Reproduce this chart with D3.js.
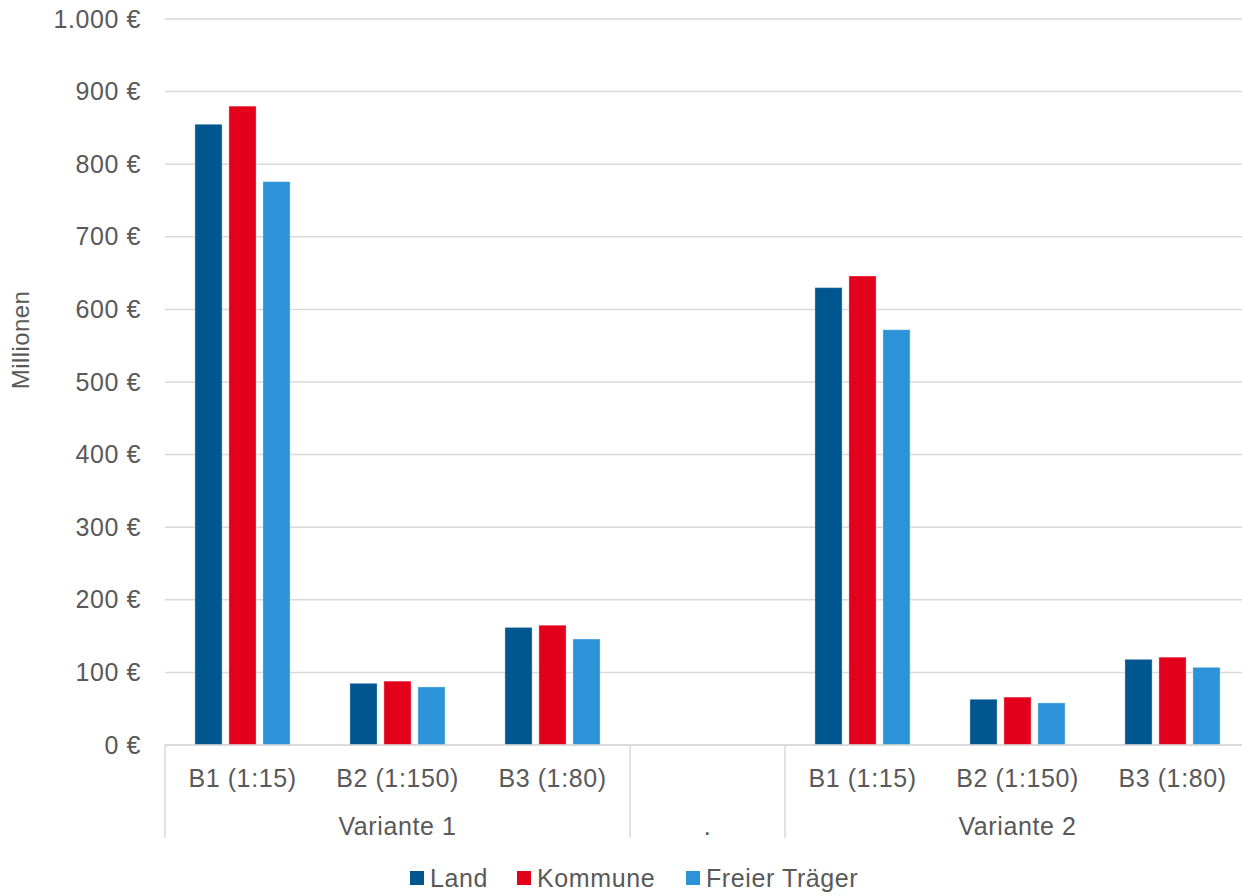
<!DOCTYPE html>
<html>
<head>
<meta charset="utf-8">
<script src="https://cdn.jsdelivr.net/npm/d3@7"></script>
<style>
  html, body { margin: 0; padding: 0; background: #fff; }
  svg text { font-family: "Liberation Sans", Arial, sans-serif; fill: #595959; }
</style>
</head>
<body>
<svg id="chart" width="1242" height="896"></svg>
<script>
// Kosten je Betreuungsschlüssel, in Millionen Euro
const categories = ["B1 (1:15)", "B2 (1:150)", "B3 (1:80)", "", "B1 (1:15)", "B2 (1:150)", "B3 (1:80)"];
const groups = [
  { label: "Variante 1", from: 0, to: 3 },
  { label: ".", from: 3, to: 4 },
  { label: "Variante 2", from: 4, to: 7 }
];
const seriesNames = ["Land", "Kommune", "Freier Träger"];
const land          = [855, 85, 162, null, 630, 63, 118];
const kommune       = [880, 88, 165, null, 646, 66, 121];
const freierTraeger = [776, 80, 146, null, 572, 58, 107];
const seriesValues = [land, kommune, freierTraeger];
const colors = ["#00568F", "#E3001B", "#2D93D9"];
const yTicks = [0, 100, 200, 300, 400, 500, 600, 700, 800, 900, 1000];

const svg = d3.select("#chart");
const plotLeft = 165, plotRight = 1250, plotTop = 19, plotBottom = 745;
const fontSize = "25px", spacing = "0.6px";

const slots = d3.range(categories.length);
const x0 = d3.scaleBand().domain(slots).range([plotLeft, plotRight])
  .paddingInner(0.342).paddingOuter(0.171);
const x1 = d3.scaleBand().domain(d3.range(seriesNames.length)).range([0, x0.bandwidth()])
  .paddingInner(0.2).paddingOuter(0.1);
const y = d3.scaleLinear().domain([0, 1000]).range([plotBottom, plotTop]);
const step = x0.step();
const slotLeft = i => plotLeft + i * step;

const fmt = v => d3.format(",")(v).replace(/,/g, ".") + " €";

// Gitterlinien und Wertachse
svg.append("g").selectAll("line").data(yTicks).join("line")
  .attr("x1", plotLeft).attr("x2", 1242)
  .attr("y1", d => y(d)).attr("y2", d => y(d))
  .attr("stroke", "#d9d9d9").attr("stroke-width", 1.5);

const yAxis = d3.axisLeft(y).tickValues(yTicks).tickSize(0).tickPadding(24).tickFormat(fmt);
const gy = svg.append("g").attr("transform", `translate(${plotLeft},0)`).call(yAxis);
gy.select(".domain").remove();
gy.selectAll("text").attr("font-family", null).attr("fill", null)
  .style("font-size", fontSize).attr("letter-spacing", spacing);

// Säulen
const bars = [];
seriesValues.forEach((vals, s) => vals.forEach((v, i) => {
  if (v != null) bars.push({ s, i, v });
}));
svg.append("g").selectAll("rect").data(bars).join("rect")
  .attr("x", d => x0(d.i) + x1(d.s))
  .attr("width", x1.bandwidth())
  .attr("y", d => y(d.v))
  .attr("height", d => y(0) - y(d.v))
  .attr("fill", d => colors[d.s])
  .attr("stroke", "#ffffff").attr("stroke-opacity", 0.35).attr("stroke-width", 1);

// Kategorienachse (zweistufig)
const axisG = svg.append("g");
axisG.append("line")
  .attr("x1", plotLeft).attr("x2", 1242).attr("y1", plotBottom).attr("y2", plotBottom)
  .attr("stroke", "#d9d9d9").attr("stroke-width", 1.5);

const separators = [0].concat(groups.map(g => g.to));
axisG.selectAll("line.sep").data(separators).join("line")
  .attr("class", "sep")
  .attr("x1", d => slotLeft(d)).attr("x2", d => slotLeft(d))
  .attr("y1", plotBottom).attr("y2", 838)
  .attr("stroke", "#d9d9d9").attr("stroke-width", 1.5);

axisG.selectAll("text.cat").data(slots).join("text")
  .attr("class", "cat")
  .attr("x", i => x0(i) + x0.bandwidth() / 2)
  .attr("y", 778)
  .attr("text-anchor", "middle").attr("dominant-baseline", "central")
  .style("font-size", fontSize).attr("letter-spacing", spacing)
  .text(i => categories[i]);

axisG.selectAll("text.grp").data(groups).join("text")
  .attr("class", "grp")
  .attr("x", g => (slotLeft(g.from) + slotLeft(g.to)) / 2)
  .attr("y", 826)
  .attr("text-anchor", "middle").attr("dominant-baseline", "central")
  .style("font-size", fontSize).attr("letter-spacing", spacing)
  .text(g => g.label);

// Legende
const legendItems = [
  { name: seriesNames[0], x: 410 },
  { name: seriesNames[1], x: 517 },
  { name: seriesNames[2], x: 686 }
];
const lg = svg.append("g").selectAll("g").data(legendItems).join("g")
  .attr("transform", d => `translate(${d.x},878)`);
lg.append("rect").attr("x", 0).attr("y", -7).attr("width", 14).attr("height", 14)
  .attr("fill", (d, i) => colors[i]);
lg.append("text").attr("x", 20).attr("y", 0).attr("dominant-baseline", "central")
  .style("font-size", fontSize).attr("letter-spacing", spacing)
  .text(d => d.name);

// Achsentitel
svg.append("text")
  .attr("transform", "translate(20,340) rotate(-90)")
  .attr("text-anchor", "middle").attr("dominant-baseline", "central")
  .style("font-size", "24px").attr("letter-spacing", "0.4px")
  .text("Millionen");
</script>
</body>
</html>
